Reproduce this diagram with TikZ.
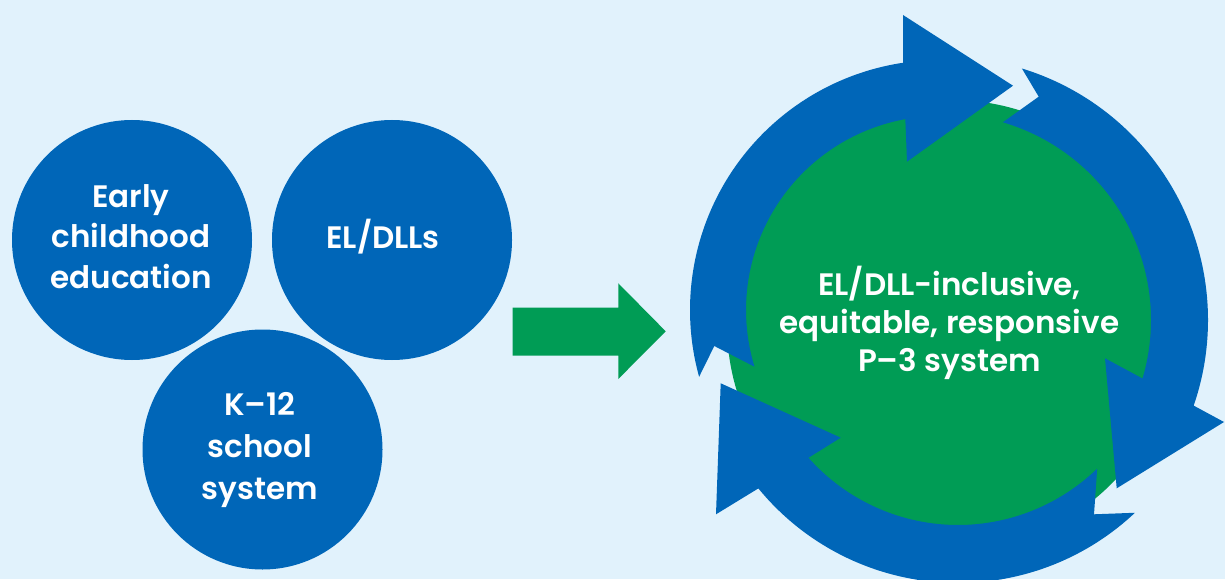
\documentclass[tikz,border=0pt]{standalone}
\usepackage{fontspec}
\IfFontExistsTF{Poppins SemiBold}{\setmainfont{Poppins}[BoldFont={Poppins SemiBold}]}{\setmainfont{Poppins}}
\usetikzlibrary{calc}
\definecolor{bgblue}{HTML}{E1F2FC}
\definecolor{ringblue}{HTML}{0066B8}
\definecolor{pgreen}{HTML}{009C55}
\begin{document}
\begin{tikzpicture}[x=1pt,y=1pt,
  bluedisc/.style={circle,fill=ringblue,inner sep=0pt,minimum size=240pt},
  greendisc/.style={circle,fill=pgreen,inner sep=0pt,minimum size=450pt},
  lefttext/.style={text=white,align=center,font=\bfseries\fontsize{31}{40.5}\selectfont,inner sep=0pt},
  righttext/.style={text=white,align=center,font=\bfseries\fontsize{31}{38.3}\selectfont,inner sep=0pt},
  ringarrow/.style={fill=ringblue},
  blockarrow/.style={fill=pgreen}]
\useasboundingbox (0,0) rectangle (1225,579);
\fill[bgblue] (0,0) rectangle (1225,579);
\clip (0,0) rectangle (1225,579);

% left discs
\node[bluedisc] (ece) at (132,339) {};
\node[bluedisc] (eldll) at (392,339) {};
\node[bluedisc] (k12) at (262.5,129.5) {};
\node[lefttext] (ecet) at (131,342.6) {Early\\childhood\\education};
\node[lefttext,anchor=base] (eldllt) at (383,330) {EL/DLLs};
\node[lefttext,font=\bfseries\fontsize{31}{42}\selectfont] (k12t) at (260,129) {K–12\\school\\system};

% green block arrow
\coordinate (ga1) at (512.7,271.3);
\coordinate (ga2) at (618.3,271.3);
\coordinate (ga3) at (618.3,295.7);
\coordinate (ga4) at (665.7,247.7);
\coordinate (ga5) at (618.3,200);
\coordinate (ga6) at (618.3,223.3);
\coordinate (ga7) at (512.7,223.3);
\fill[blockarrow] (ga1) -- (ga2) -- (ga3) -- (ga4) -- (ga5) -- (ga6) -- (ga7) -- cycle;

% green disc
\node[greendisc] (p3) at (952,254) {};

% ring arrow centres
\coordinate (c1) at (940,269);
\coordinate (c2) at (945,259);
\coordinate (c3) at (958,254);

% top arrow
\coordinate (h1a) at (903,564);
\coordinate (h1tip) at (1013,493.3);
\coordinate (h1b) at (907,417.3);
\coordinate (n1) at (714.3,233);
\fill[ringarrow] ($(c1)+(195.5:250pt)$) arc[start angle=195.5,end angle=98.5,radius=250pt]
  -- (h1a) -- (h1tip) -- (h1b) -- ($(c1)+(100.3:194pt)$)
  arc[start angle=100.3,end angle=197,radius=194pt] -- (n1) -- cycle;

% right arrow
\coordinate (h2a) at (1105,220.7);
\coordinate (h2tip) at (1224,157);
\coordinate (h2b) at (1116.7,90.7);
\coordinate (n2) at (1038.7,482.3);
\fill[ringarrow] ($(c2)+(73:263pt)$) arc[start angle=73,end angle=-19,radius=263pt]
  -- (h2tip) -- (h2b) -- (h2a) -- ($(c2)+(-16.5:206pt)$)
  arc[start angle=-16.5,end angle=73.7,radius=206pt] -- (n2) -- cycle;

% bottom arrow
\coordinate (h3a) at (720.7,195.7);
\coordinate (h3tip) at (840.7,141.3);
\coordinate (h3b) at (716,64.7);
\coordinate (n3) at (1094,64.7);
\fill[ringarrow] ($(c3)+(313.3:258pt)$) arc[start angle=313.3,end angle=219.3,radius=258pt]
  -- (h3b) -- (h3a) -- (h3tip) -- ($(c3)+(221.6:200pt)$)
  arc[start angle=221.6,end angle=314.1,radius=200pt] -- (n3) -- cycle;

\node[righttext] (p3t) at (949.5,256) {EL/DLL-inclusive,\\equitable, responsive\\P–3 system};
\end{tikzpicture}
\end{document}
